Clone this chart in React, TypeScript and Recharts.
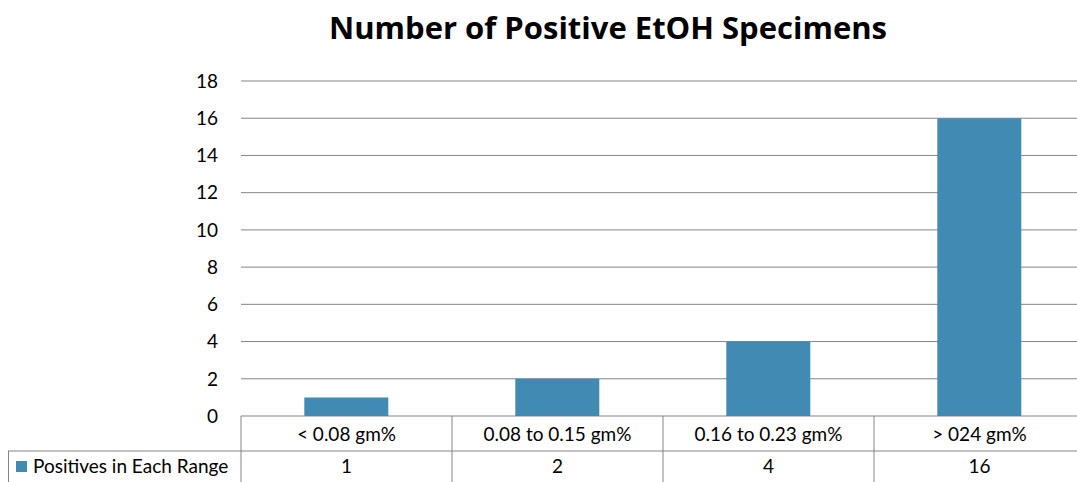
import { Bar, BarChart, CartesianGrid, Customized, XAxis, YAxis } from 'recharts';

const ranges = ['< 0.08 gm%', '0.08 to 0.15 gm%', '0.16 to 0.23 gm%', '> 024 gm%'];
const positives = [1, 2, 4, 16];
const yTicks = [0, 2, 4, 6, 8, 10, 12, 14, 16, 18];
const seriesName = 'Positives in Each Range';

const data = ranges.map((range, i) => ({ range, positives: positives[i] }));

// chart is a bit wider than the frame, like the original (right edge is cropped)
const W = 1077;
const CHART_W = 1085;
const H = 482;
const AXIS_W = 241;
const TABLE_H = 66;
const ROW_H = 35;
const BLUE = '#418ab3';
const LINE = '#858585';
const FONT = 'Lato, "Open Sans", sans-serif';

const band = (CHART_W - AXIS_W) / ranges.length;
const plotBottom = H - TABLE_H;

function TableTick(props: any) {
  const { x, y, payload } = props;
  const i = payload.index;
  const left = x - band / 2;
  const right = x + band / 2;
  return (
    <g>
      <line x1={left} y1={y} x2={left} y2={H} stroke={LINE} />
      <line x1={left} y1={y + ROW_H} x2={right} y2={y + ROW_H} stroke={LINE} />
      <text x={x} y={y + ROW_H / 2 + 7} textAnchor="middle" fontSize={19} fill="#000" fontFamily={FONT}>
        {payload.value}
      </text>
      <text x={x} y={y + ROW_H + 22} textAnchor="middle" fontSize={19} fill="#000" fontFamily={FONT}>
        {positives[i]}
      </text>
    </g>
  );
}

function LegendCell() {
  const top = plotBottom + ROW_H;
  return (
    <g>
      <line x1={8} y1={top} x2={AXIS_W} y2={top} stroke={LINE} />
      <line x1={8.5} y1={top} x2={8.5} y2={H} stroke={LINE} />
      <rect x={16} y={top + 10} width={11} height={11} fill={BLUE} />
      <text x={33} y={top + 22} fontSize={19} fill="#000" fontFamily={FONT}>
        {seriesName}
      </text>
    </g>
  );
}

function Title() {
  return (
    <text x={608} y={39} textAnchor="middle" fontSize={31} fontWeight="bold" fill="#000" fontFamily='"Open Sans", sans-serif'>
      Number of Positive EtOH Specimens
    </text>
  );
}

export default function App() {
  return (
    <div style={{ position: 'absolute', left: 0, top: 0, width: W, height: H, overflow: 'hidden', background: '#fff' }}>
      <BarChart
        width={CHART_W}
        height={H}
        data={data}
        margin={{ top: 81, right: 0, left: 0, bottom: 0 }}
        barCategoryGap="30%"
      >
        <CartesianGrid vertical={false} stroke={LINE} />
        <XAxis
          dataKey="range"
          height={TABLE_H}
          axisLine={false}
          tickLine={false}
          tickSize={0}
          tickMargin={0}
          interval={0}
          tick={<TableTick />}
        />
        <YAxis
          width={AXIS_W}
          domain={[0, 18]}
          ticks={yTicks}
          axisLine={false}
          tickLine={false}
          tickSize={0}
          tickMargin={23}
          tick={{ fontSize: 19, fill: '#000', fontFamily: FONT }}
        />
        <Bar dataKey="positives" name={seriesName} fill={BLUE} isAnimationActive={false} />
        <Customized component={<LegendCell />} />
        <Customized component={<Title />} />
      </BarChart>
    </div>
  );
}
